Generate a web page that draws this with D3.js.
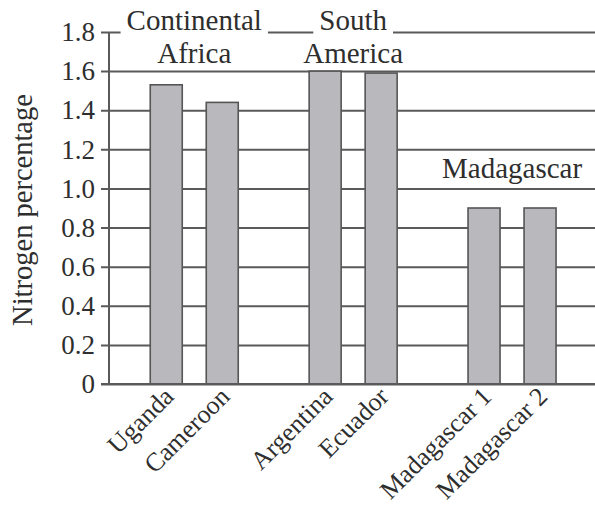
<!DOCTYPE html>
<html>
<head>
<meta charset="utf-8">
<script src="https://cdn.jsdelivr.net/npm/d3@7"></script>
<style>
  html, body { margin: 0; padding: 0; background: #fff; }
  svg { display: block; }
  text { font-family: "Liberation Serif", "Times New Roman", serif; fill: #2e2e2e; }
</style>
</head>
<body>
<svg id="chart" width="595" height="506"></svg>
<script>
// ---- data ----
const groups = ["Continental Africa", "South America", "Madagascar"];
const groupLabelLines = [["Continental", "Africa"], ["South", "America"], ["Madagascar"]];
const categories = ["Uganda", "Cameroon", "Argentina", "Ecuador", "Madagascar 1", "Madagascar 2"];
const categoryGroup = ["Continental Africa", "Continental Africa", "South America", "South America", "Madagascar", "Madagascar"];
const values = [1.53, 1.44, 1.60, 1.59, 0.90, 0.90];
const yTicks = [0, 0.2, 0.4, 0.6, 0.8, 1.0, 1.2, 1.4, 1.6, 1.8];
const yTickLabels = ["0", "0.2", "0.4", "0.6", "0.8", "1.0", "1.2", "1.4", "1.6", "1.8"];
const yTitle = "Nitrogen percentage";

// ---- layout ----
const svg = d3.select("#chart");
const axisX = 109, gridLeft = 101, gridRight = 595;
const y = d3.scaleLinear().domain([0, 1.8]).range([384, 32]);

const xGroup = d3.scaleBand().domain(groups).range([114.8, 591.5]).paddingInner(0).paddingOuter(0);
const xInner = d3.scaleBand().domain([0, 1]).range([0, xGroup.bandwidth()]).paddingInner(0.4286).paddingOuter(0.633);

const rows = categories.map((c, i) => {
  const g = categoryGroup[i];
  const idx = categoryGroup.slice(0, i).filter(v => v === g).length;
  return { cat: c, group: g, value: values[i], x: xGroup(g) + xInner(idx), w: xInner.bandwidth() };
});

const lineColor = "#5a5a5a";
const groupFont = 29;

// gridlines (extend left as ticks)
const yAxis = d3.axisLeft(y).tickValues(yTicks).tickFormat((d, i) => yTickLabels[i])
  .tickSize(gridRight - gridLeft).tickPadding(0);
const gAxis = svg.append("g").attr("transform", `translate(${gridRight},0)`).call(yAxis);
gAxis.select(".domain").remove();
gAxis.selectAll(".tick line").attr("stroke", lineColor).attr("stroke-width", 2);
gAxis.selectAll(".tick text").remove();

// tick labels
svg.append("g").selectAll("text").data(yTicks).join("text")
  .attr("x", 95).attr("y", d => y(d)).attr("dy", "0.34em")
  .attr("text-anchor", "end").attr("font-size", 27)
  .text((d, i) => yTickLabels[i]);

// vertical axis line
svg.append("line").attr("x1", axisX).attr("x2", axisX)
  .attr("y1", y(1.8)).attr("y2", y(0))
  .attr("stroke", lineColor).attr("stroke-width", 2);

// bars
svg.append("g").selectAll("rect").data(rows).join("rect")
  .attr("x", d => d.x).attr("width", d => d.w)
  .attr("y", d => y(d.value)).attr("height", d => y(0) - y(d.value))
  .attr("fill", "#b9b9bd").attr("stroke", "#555").attr("stroke-width", 1.6);

// baseline redraw
svg.append("line").attr("x1", gridLeft).attr("x2", gridRight)
  .attr("y1", y(0)).attr("y2", y(0)).attr("stroke", lineColor).attr("stroke-width", 2);

// group labels
const gl = svg.append("g");
groups.forEach((g, i) => {
  const cx = xGroup(g) + xGroup.bandwidth() / 2;
  const maxV = d3.max(rows.filter(r => r.group === g), r => r.value);
  const lines = groupLabelLines[i];
  const top = maxV > 1.3;
  const baseY = top ? 30 : y(maxV) - 30;
  const t = gl.append("text").attr("text-anchor", "middle").attr("font-size", groupFont);
  lines.forEach((ln, j) => {
    t.append("tspan").attr("x", cx).attr("y", baseY + j * 33).text(ln);
  });
  if (top) {
    const tmp = gl.append("text").attr("font-size", groupFont).text(lines[0]);
    const w = tmp.node().getComputedTextLength();
    tmp.remove();
    gl.insert("rect", "text").attr("x", cx - w / 2 - 6).attr("width", w + 12)
      .attr("y", y(1.8) - 4).attr("height", 8).attr("fill", "#fff");
  }
});

// x labels
svg.append("g").selectAll("text").data(rows).join("text")
  .attr("text-anchor", "end").attr("font-size", 26)
  .attr("transform", d => `translate(${d.x + d.w / 2 + 9},${398}) rotate(-45)`)
  .text(d => d.cat);

// y title
svg.append("text").attr("text-anchor", "middle").attr("font-size", 28.5)
  .attr("transform", `translate(32,210) rotate(-90)`)
  .text(yTitle);
</script>
</body>
</html>
